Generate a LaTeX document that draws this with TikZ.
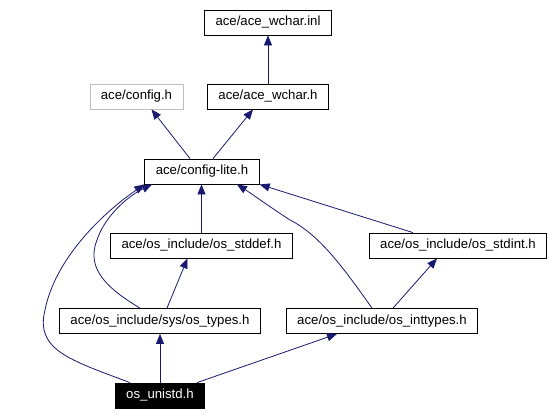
\documentclass[tikz,border=0pt]{standalone}
\usepackage{fontspec}
\setmainfont{Liberation Sans}
\usetikzlibrary{arrows.meta}
\definecolor{kante}{HTML}{191970}
\definecolor{grau}{HTML}{BFBFBF}

\begin{document}
\begin{tikzpicture}[x=1pt, y=-1pt,
	datei/.style={draw=black, line width=0.8pt, fill=white, inner xsep=11pt,
	inner ysep=0pt, minimum height=25pt, font=\fontsize{13.2}{15}\selectfont},
	pfeil/.style={draw=kante, line width=0.8pt,
	-{Triangle[length=10pt, width=8pt]}}]
	\useasboundingbox (0, 0) rectangle (554, 415);
	% Dateien
	\node[datei] (inl) at (268, 22.5) {ace/ace\_wchar.inl};
	\node[datei, draw=grau] (config) at (136.5, 96.5) {ace/config.h};
	\node[datei] (wchar) at (268, 96.5) {ace/ace\_wchar.h};
	\node[datei] (lite) at (202, 171.5) {ace/config-lite.h};
	\node[datei] (stddef) at (201.5, 245.5) {ace/os\_include/os\_stddef.h};
	\node[datei] (stdint) at (458, 245.5) {ace/os\_include/os\_stdint.h};
	\node[datei] (types) at (160, 321) {ace/os\_include/sys/os\_types.h};
	\node[datei] (inttypes) at (382, 321) {ace/os\_include/os\_inttypes.h};
	\node[datei, fill=black, text=white] (unistd) at (160, 395.5) {os\_unistd.h};

	% Abhaengigkeiten
	\draw[pfeil] (wchar) -- (inl);
	\draw[pfeil] ([xshift=-12pt]lite.north) -- ([xshift=15pt]config.south);
	\draw[pfeil] ([xshift=11pt]lite.north) -- ([xshift=-15pt]wchar.south);
	\draw[pfeil] (stddef.north) -- (stddef.north |- lite.south);
	\draw[pfeil] ([xshift=-45pt]stdint.north) -- (lite.south east);
	\draw[pfeil] ([xshift=-10pt]inttypes.north) .. controls (345, 270) and
	(320, 235) .. (290, 220) .. controls (270, 207) and (252, 194) ..
	([xshift=35pt]lite.south);
	\draw[pfeil] ([xshift=11pt]inttypes.north) -- ([xshift=-21pt]stdint.south);
	\draw[pfeil] ([xshift=7pt]types.north) -- ([xshift=-14pt]stddef.south);
	\draw[pfeil] ([xshift=-20pt]types.north) .. controls (110, 290) and
	(85, 270) .. (97, 240) .. controls (105, 215) and (130, 195) ..
	([xshift=-50pt]lite.south);
	\draw[pfeil] ([xshift=-30pt]unistd.north) .. controls (70, 360) and
	(35, 350) .. (45, 310) .. controls (55, 260) and (100, 215) ..
	(lite.south west);
	\draw[pfeil] (unistd) -- (types);
	\draw[pfeil] ([xshift=37pt]unistd.north) -- ([xshift=-45pt]inttypes.south);
\end{tikzpicture}
\end{document}
